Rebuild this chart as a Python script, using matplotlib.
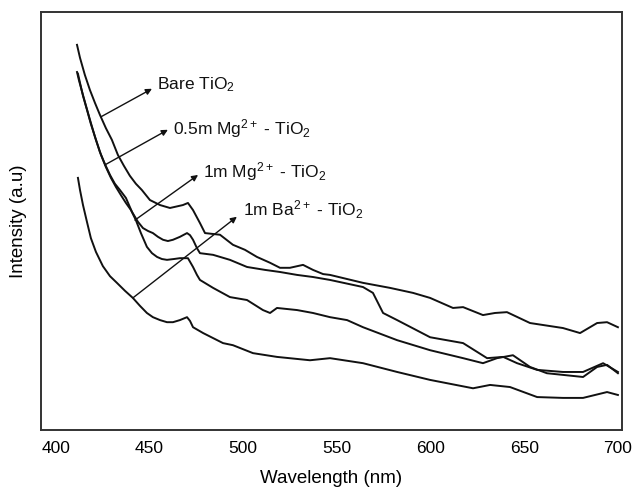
import matplotlib
matplotlib.use("Agg")
import matplotlib.pyplot as plt

plt.rcParams['font.family'] = ['Liberation Sans', 'DejaVu Sans']
plt.rcParams['mathtext.fontset'] = 'custom'
plt.rcParams['mathtext.rm'] = 'Liberation Sans'
plt.rcParams['mathtext.it'] = 'Liberation Sans:italic'

# Bare TiO2
bare_x = [411.4, 413.0, 415.6, 418.3, 421.0, 423.6, 426.8, 430.0, 433.2, 436.4, 439.6, 442.8, 446.0,
          450.3, 455.7, 461.0, 467.9, 470.6,
          473.3, 477.0, 479.7, 487.7, 494.6, 501.0, 507.4, 514.4, 519.7, 525.0, 532.0, 537.3, 542.7,
          546.4, 564.0, 578.4, 590.7, 599.8, 612.0, 617.4, 628.0, 634.4, 640.8, 653.1, 670.7, 679.8,
          688.9, 694.2, 700.0]
bare_y = [92.1, 89.0, 84.9, 81.3, 78.2, 75.4, 72.2, 69.4, 65.8, 63.2, 60.8, 58.9, 57.4,
          55.0, 53.8, 53.1, 53.8, 54.3,
          52.6, 49.5, 47.1, 46.7, 44.3, 43.1, 41.4, 40.0, 38.8, 38.8, 39.5, 38.3, 37.3,
          37.1, 35.2, 34.0, 32.8, 31.6, 29.2, 29.4, 27.5, 28.0, 28.2, 25.6, 24.4, 23.2,
          25.6, 25.8, 24.6]

# 0.5m Mg2+ - TiO2
mg05_x = [411.4, 412.4, 414.1, 416.2, 418.3, 421.0, 423.6, 426.3, 429.0, 431.6, 434.3, 437.5, 440.7,
          443.9, 446.6, 449.3, 451.9, 454.6, 457.3, 459.9, 462.6, 466.3, 470.1, 471.7, 473.3, 475.4,
          477.0, 484.0, 493.0, 502.1, 511.7, 519.7, 528.8, 537.3, 546.4, 564.0, 569.3,
          572.0, 574.7, 582.2, 599.8, 617.4, 630.2, 638.8, 646.2, 656.9, 670.7, 681.4, 692.1, 700.0]
mg05_y = [85.6, 83.7, 80.9, 77.5, 74.2, 70.1, 66.5, 63.6, 61.0, 58.9, 57.4, 55.5, 52.2,
          49.8, 48.3, 47.6, 47.1, 46.2, 45.5, 45.2, 45.5, 46.2, 47.1, 46.6, 45.5, 43.5,
          42.3, 41.9, 40.7, 39.0, 38.3, 37.8, 37.1, 36.6, 35.9, 34.2, 32.8,
          30.4, 28.0, 26.3, 22.2, 20.8, 17.2, 17.5, 16.0, 14.4, 13.9, 13.9, 16.0, 13.9]

# 1m Mg2+ - TiO2
mg1_x = [411.9, 413.0, 414.6, 416.7, 418.8, 421.5, 424.2, 426.8, 429.5, 432.2, 434.8, 437.5, 440.2,
         442.8, 445.5, 448.7, 451.4, 454.1, 456.7, 459.4, 463.1, 466.3, 470.6, 473.3, 475.4, 477.0,
         484.0, 493.0, 502.1, 510.6, 514.4, 518.1, 528.8, 537.3, 546.4, 555.5,
         564.0, 582.2, 599.8, 617.4, 628.0, 635.5, 644.0, 653.1, 662.1, 670.7, 681.4, 688.9, 694.2, 700.0]
mg1_y = [85.2, 83.0, 79.9, 76.6, 73.2, 69.4, 65.8, 62.9, 60.3, 58.1, 56.2, 54.3, 52.6,
         50.2, 47.1, 43.8, 42.3, 41.4, 40.9, 40.7, 40.9, 41.1, 41.1, 39.0, 37.1, 35.9,
         34.0, 31.8, 31.1, 28.7, 28.0, 29.2, 28.7, 28.0, 27.0, 26.3,
         24.6, 21.5, 19.1, 17.2, 16.0, 17.2, 17.9, 15.1, 13.6, 13.2, 12.7, 15.1, 15.6, 13.6]

# 1m Ba2+ - TiO2
ba_x = [411.9, 413.0, 414.6, 416.7, 418.8, 421.5, 425.2, 429.0, 432.7, 437.0, 441.2, 445.0, 448.7,
        451.9, 455.7, 459.4, 462.6, 466.3, 470.1, 471.7, 473.3,
        478.7, 489.3, 494.6, 505.3, 518.1, 535.7, 546.4, 564.0, 582.2, 599.8, 622.7, 631.8, 642.4,
        656.9, 670.7, 681.4, 694.2, 700.0]
ba_y = [60.3, 57.4, 53.8, 49.8, 45.9, 42.6, 39.2, 36.8, 35.2, 33.3, 31.6, 29.7, 28.0,
        27.0, 26.3, 25.8, 25.8, 26.3, 27.0, 26.1, 24.6,
        23.2, 20.8, 20.3, 18.4, 17.5, 16.7, 17.2, 16.0, 13.9, 12.0, 10.0, 10.8, 10.3,
        7.9, 7.7, 7.7, 9.1, 8.4]

labels = [r'Bare TiO$_2$', r'0.5m Mg$^{2+}$ - TiO$_2$', r'1m Mg$^{2+}$ - TiO$_2$', r'1m Ba$^{2+}$ - TiO$_2$']
arrow_start = [(424.2, 74.9), (426.3, 63.4), (442.3, 50.2), (441.2, 31.6)]
arrow_end = [(451.4, 81.6), (459.9, 71.8), (476.0, 61.0), (496.7, 51.0)]
text_pos = [(454.1, 82.5), (462.6, 72.2), (478.7, 61.7), (499.8, 52.6)]

xticks = [400, 450, 500, 550, 600, 650, 700]

fig = plt.figure(figsize=(6.35, 4.91), dpi=100)
ax = fig.add_axes([0.064, 0.124, 0.915, 0.852])

for xs, ys in [(bare_x, bare_y), (mg05_x, mg05_y), (mg1_x, mg1_y), (ba_x, ba_y)]:
    ax.plot(xs, ys, color='#111111', lw=1.4, solid_joinstyle='round')

for lab, s, e, t in zip(labels, arrow_start, arrow_end, text_pos):
    ax.annotate('', xy=e, xytext=s,
                arrowprops=dict(arrowstyle='-|>', color='#111111', lw=1.0, mutation_scale=9,
                                shrinkA=0, shrinkB=0))
    ax.text(t[0], t[1], lab, fontsize=12.5, ha='left', va='center', color='#111111')

ax.set_xlim(392, 702)
ax.set_ylim(0, 100)
ax.set_xticks(xticks)
ax.set_yticks([])
ax.tick_params(axis='x', length=0, labelsize=12.5, pad=8)
for sp in ax.spines.values():
    sp.set_linewidth(1.4)
    sp.set_color('#333333')
ax.set_xlabel('Wavelength (nm)', fontsize=13.5, labelpad=10)
ax.set_ylabel('Intensity (a.u)', fontsize=13.5, labelpad=10)

fig.savefig('out.png', dpi=100)
